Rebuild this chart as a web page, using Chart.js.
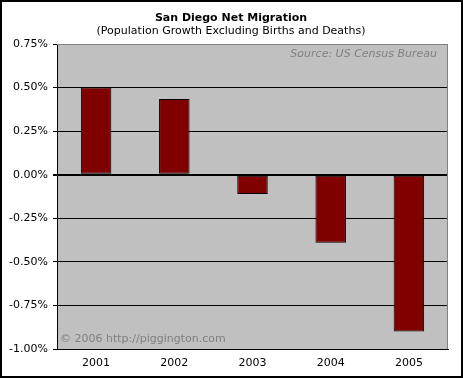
<!DOCTYPE html>
<html lang="en">
<head>
    <meta charset="UTF-8">
    <title>San Diego Net Migration</title>
    <script src="https://cdn.jsdelivr.net/npm/chart.js"></script>
    <style>
        body { margin: 0; background: #fff; }
        canvas { display: block; }
    </style>
</head>
<body>
    <canvas id="migChart" width="463" height="378"></canvas>

    <script>
        // data (percent)
        const years = ['2001', '2002', '2003', '2004', '2005'];
        const netMigration = [0.50, 0.435, -0.11, -0.39, -0.90];
        const yMin = -1.00, yMax = 0.75, yStep = 0.25;

        const FONT = 'Verdana, "DejaVu Sans", sans-serif';

        // gray plot background, frame, titles and the two notes
        const decor = {
            id: 'decor',
            beforeDraw(chart) {
                const { ctx, chartArea: a } = chart;
                ctx.save();
                ctx.fillStyle = '#c0c0c0';
                ctx.fillRect(a.left, a.top, a.right - a.left, a.bottom - a.top);
                ctx.restore();
            },
            afterDraw(chart) {
                const { ctx, chartArea: a } = chart;
                ctx.save();
                // plot border (top/right)
                ctx.strokeStyle = '#808080';
                ctx.lineWidth = 1;
                ctx.beginPath();
                ctx.moveTo(a.left, a.top + 0.5);
                ctx.lineTo(a.right - 0.5, a.top + 0.5);
                ctx.lineTo(a.right - 0.5, a.bottom);
                ctx.stroke();

                ctx.fillStyle = '#000';
                ctx.textAlign = 'center';
                ctx.textBaseline = 'middle';
                ctx.font = 'bold 11px ' + FONT;
                ctx.fillText('San Diego Net Migration', 231, 18);
                ctx.font = '11px ' + FONT;
                ctx.fillText('(Population Growth Excluding Births and Deaths)', 231, 31);

                ctx.fillStyle = '#808080';
                ctx.font = 'italic 11px ' + FONT;
                ctx.textAlign = 'right';
                ctx.fillText('Source: US Census Bureau', 437, 54);
                ctx.font = '11px ' + FONT;
                ctx.textAlign = 'left';
                ctx.fillText('\u00a9 2006 http://piggington.com', 60, 339);

                // outer frame
                ctx.strokeStyle = '#000';
                ctx.lineWidth = 2;
                ctx.strokeRect(1, 1, 461, 376);
                ctx.restore();
            }
        };

        new Chart(document.getElementById('migChart'), {
            type: 'bar',
            data: {
                labels: years,
                datasets: [{
                    data: netMigration,
                    backgroundColor: '#800000',
                    borderColor: '#000',
                    borderWidth: 1,
                    borderSkipped: false,
                    categoryPercentage: 1,
                    barPercentage: 0.39
                }]
            },
            options: {
                responsive: false,
                animation: false,
                layout: { padding: { top: 44, right: 15, left: 0, bottom: 0 } },
                plugins: {
                    legend: { display: false },
                    tooltip: { enabled: false }
                },
                scales: {
                    x: {
                        grid: { display: false, drawTicks: false },
                        border: { display: true, color: '#000' },
                        ticks: { color: '#000', padding: 8, font: { family: FONT, size: 11 } },
                        afterFit: s => { s.height = 29; }
                    },
                    y: {
                        min: yMin,
                        max: yMax,
                        ticks: {
                            stepSize: yStep,
                            padding: 5,
                            color: '#000',
                            font: { family: FONT, size: 11 },
                            callback: v => v.toFixed(2) + '%'
                        },
                        grid: {
                            color: c => (c.tick && c.tick.value === yMax) ? '#808080' : '#000',
                            lineWidth: c => (c.tick && c.tick.value === 0) ? 2 : 1,
                            tickColor: '#000',
                            tickLength: 4
                        },
                        border: { display: true, color: '#000' },
                        afterFit: s => { s.width = 57; }
                    }
                }
            },
            plugins: [decor]
        });
    </script>
</body>
</html>
